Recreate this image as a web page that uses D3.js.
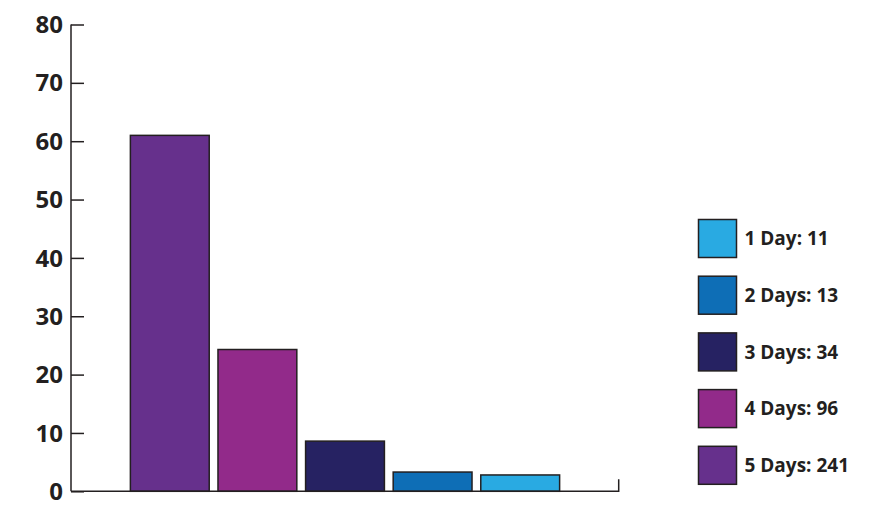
<!DOCTYPE html>
<html>
<head>
<meta charset="utf-8">
<script src="https://cdn.jsdelivr.net/npm/d3@7"></script>
<style>
  body { margin: 0; background: #fff; }
  text { font-family: "Open Sans", sans-serif; font-weight: 700; fill: #231f20; }
</style>
</head>
<body>
<div id="chart"></div>
<script>
// bars, left to right (percent of respondents)
const categories = ['5 Days', '4 Days', '3 Days', '2 Days', '1 Day'];
const percents = [61.0, 24.3, 8.6, 3.3, 2.8];
const colors = ['#66308c', '#922a8a', '#262262', '#0e6eb6', '#29aae2'];

// legend, top to bottom
const legendLabels = ['1 Day: 11', '2 Days: 13', '3 Days: 34', '4 Days: 96', '5 Days: 241'];
const legendColors = ['#29aae2', '#0e6eb6', '#262262', '#922a8a', '#66308c'];

const yTicks = [0, 10, 20, 30, 40, 50, 60, 70, 80];

const dimensions = {
  width: 889,
  height: 510,
};

const ink = '#231f20';

const svg = d3.select('#chart')
  .append('svg')
  .attr('width', dimensions.width)
  .attr('height', dimensions.height);

const y = d3.scaleLinear()
  .domain([0, 80])
  .range([491.3, 24.5]);

const x = d3.scaleBand()
  .domain(categories)
  .range([126, 564])
  .paddingInner(0.1)
  .paddingOuter(0.05);

// y axis with inward ticks
const yAxis = d3.axisRight(y)
  .tickValues(yTicks)
  .tickSize(13)
  .tickFormat('');

const gy = svg.append('g')
  .attr('transform', 'translate(71, 0)')
  .call(yAxis);
gy.select('.domain').remove();
gy.selectAll('.tick line').attr('stroke', ink).attr('stroke-width', 1.5);

svg.append('line')
  .attr('x1', 71).attr('x2', 71)
  .attr('y1', y(80)).attr('y2', y(0))
  .attr('stroke', ink).attr('stroke-width', 1.5);

svg.append('g')
  .selectAll('text')
  .data(yTicks)
  .join('text')
  .attr('x', 63)
  .attr('y', (d) => y(d))
  .attr('dy', '0.36em')
  .attr('text-anchor', 'end')
  .attr('font-size', 24)
  .text((d) => d);

// bars
svg.append('g')
  .attr('stroke', ink)
  .attr('stroke-width', 1.5)
  .selectAll('rect')
  .data(percents)
  .join('rect')
  .attr('x', (_, i) => x(categories[i]))
  .attr('y', (d) => y(d))
  .attr('width', x.bandwidth())
  .attr('height', (d) => y(0) - y(d))
  .attr('fill', (_, i) => colors[i]);

// x axis baseline with end tick
svg.append('path')
  .attr('d', `M71,${y(0)}H618.7V${y(0) - 12}`)
  .attr('fill', 'none')
  .attr('stroke', ink)
  .attr('stroke-width', 1.5);

// legend
const legend = svg.append('g')
  .selectAll('g')
  .data(legendLabels)
  .join('g')
  .attr('transform', (_, i) => `translate(698.5, ${219.5 + i * 56.7})`);

legend.append('rect')
  .attr('width', 38)
  .attr('height', 38)
  .attr('fill', (_, i) => legendColors[i])
  .attr('stroke', ink)
  .attr('stroke-width', 1.5);

legend.append('text')
  .attr('x', 46)
  .attr('y', 19)
  .attr('dy', '0.36em')
  .attr('font-size', 19)
  .text((d) => d);
</script>
</body>
</html>
